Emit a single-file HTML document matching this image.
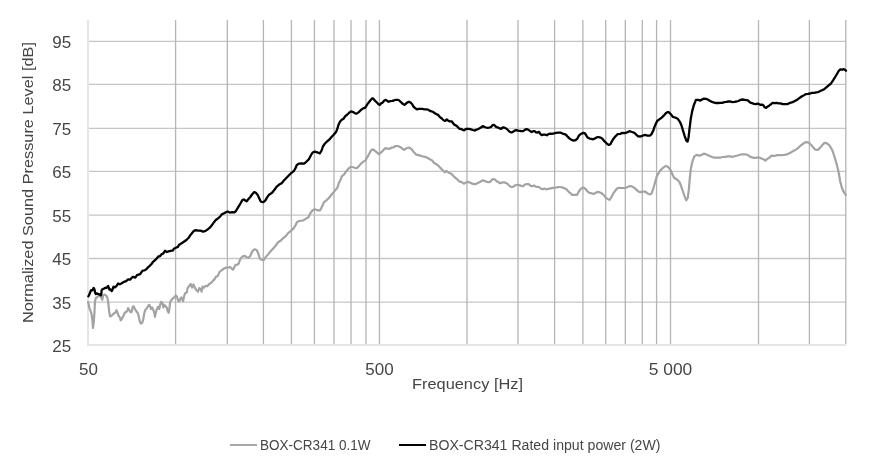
<!DOCTYPE html>
<html><head><meta charset="utf-8">
<style>
html,body{margin:0;padding:0;background:#fff;}
body{width:886px;height:467px;overflow:hidden;}
svg{display:block;will-change:transform;font-family:"Liberation Sans",sans-serif;}
</style></head>
<body>
<svg width="886" height="467" viewBox="0 0 886 467">
<rect width="886" height="467" fill="#fff"/>
<g stroke="#c6c6c6" stroke-width="1.3">
<line x1="89" y1="41.3" x2="846" y2="41.3"/><line x1="89" y1="84.4" x2="846" y2="84.4"/><line x1="89" y1="128.4" x2="846" y2="128.4"/><line x1="89" y1="171.4" x2="846" y2="171.4"/><line x1="89" y1="215.2" x2="846" y2="215.2"/><line x1="89" y1="258.5" x2="846" y2="258.5"/><line x1="89" y1="302.1" x2="846" y2="302.1"/>
</g>
<g stroke="#b6b6b6" stroke-width="1.33">
<line x1="175.6" y1="20" x2="175.6" y2="344"/><line x1="227.35" y1="20" x2="227.35" y2="344"/><line x1="263.4" y1="20" x2="263.4" y2="344"/><line x1="291.4" y1="20" x2="291.4" y2="344"/><line x1="314.45" y1="20" x2="314.45" y2="344"/><line x1="334.0" y1="20" x2="334.0" y2="344"/><line x1="351.0" y1="20" x2="351.0" y2="344"/><line x1="366.0" y1="20" x2="366.0" y2="344"/><line x1="379.45" y1="20" x2="379.45" y2="344"/><line x1="467.0" y1="20" x2="467.0" y2="344"/><line x1="518.0" y1="20" x2="518.0" y2="344"/><line x1="554.6" y1="20" x2="554.6" y2="344"/><line x1="582.9" y1="20" x2="582.9" y2="344"/><line x1="605.7" y1="20" x2="605.7" y2="344"/><line x1="625.3" y1="20" x2="625.3" y2="344"/><line x1="642.3" y1="20" x2="642.3" y2="344"/><line x1="656.6" y1="20" x2="656.6" y2="344"/><line x1="670.5" y1="20" x2="670.5" y2="344"/><line x1="758.5" y1="20" x2="758.5" y2="344"/><line x1="809.4" y1="20" x2="809.4" y2="344"/><line x1="845.8" y1="20" x2="845.8" y2="344"/>
</g>
<g fill="#e6e6e6" shape-rendering="crispEdges">
<rect x="87" y="20" width="2" height="326"/>
<rect x="87" y="344" width="759" height="2"/>
</g>
<path d="M88.1,301.8 L88.8,305.0 L89.4,308.3 L90.7,311.3 L91.6,314.3 L92.4,320.3 L93.0,328.0 L93.7,322.8 L94.4,313.4 L95.0,301.4 L95.9,298.0 L97.1,297.1 L98.9,295.9 L100.1,295.4 L101.4,298.0 L102.3,299.7 L103.1,295.4 L104.4,294.6 L106.1,295.4 L107.4,297.6 L108.3,303.1 L109.1,310.9 L110.0,316.4 L111.3,316.0 L112.6,314.7 L113.9,313.4 L115.1,313.0 L116.5,310.2 L117.5,312.7 L118.6,315.8 L120.0,317.6 L120.7,320.4 L121.8,319.0 L123.2,316.2 L124.6,313.0 L126.0,312.0 L127.1,311.3 L128.1,308.1 L129.2,309.8 L130.6,312.3 L131.7,312.0 L132.7,306.7 L133.8,306.3 L134.8,308.8 L136.3,311.3 L137.7,313.0 L138.7,316.2 L139.8,321.5 L140.9,323.6 L142.3,322.6 L143.3,319.0 L144.4,312.7 L145.4,309.8 L146.9,308.4 L147.9,306.3 L149.0,304.9 L149.5,304.9 L151.0,309.0 L152.1,307.5 L153.3,309.8 L154.4,313.5 L154.9,316.9 L155.5,314.3 L156.6,309.8 L158.1,306.8 L159.3,309.0 L160.0,305.3 L161.1,301.9 L162.3,302.6 L163.4,307.5 L164.1,304.9 L165.3,305.6 L166.8,307.9 L167.9,311.3 L168.6,312.8 L169.4,309.0 L170.1,302.3 L171.3,300.0 L172.8,298.5 L174.3,297.4 L175.8,295.5 L176.9,296.6 L178.0,300.0 L179.1,301.5 L180.3,298.9 L181.4,297.4 L182.5,300.0 L183.1,301.1 L184.0,297.1 L184.9,293.5 L186.7,292.6 L187.6,288.1 L189.0,286.3 L190.8,284.0 L192.1,287.6 L193.5,284.5 L194.8,287.6 L196.2,289.9 L198.0,291.7 L199.3,288.1 L200.7,289.4 L201.6,291.7 L202.5,286.7 L203.8,287.6 L205.6,285.8 L207.4,286.3 L209.2,284.0 L211.0,283.1 L212.8,280.9 L214.6,279.1 L216.0,276.8 L217.8,275.9 L219.6,271.9 L222.0,270.0 L224.2,268.4 L226.4,267.6 L228.2,267.5 L230.0,267.1 L231.5,268.2 L232.9,269.7 L234.0,267.9 L235.5,264.9 L237.3,264.6 L238.8,263.5 L239.8,260.2 L241.3,257.7 L243.1,256.2 L244.9,255.8 L246.8,257.3 L248.6,257.7 L250.4,255.8 L251.5,252.9 L253.0,250.4 L254.8,249.3 L256.6,250.0 L258.1,252.9 L259.2,256.6 L260.2,259.1 L261.6,259.7 L263.7,260.2 L265.7,257.1 L268.3,254.1 L270.8,251.0 L273.4,248.4 L276.0,245.3 L278.0,242.2 L280.6,240.7 L283.2,238.1 L285.7,236.1 L288.3,233.0 L290.9,230.9 L293.5,228.4 L295.5,225.3 L297.1,222.1 L299.8,220.8 L303.0,220.5 L305.7,218.9 L308.4,217.3 L310.5,213.0 L312.7,210.3 L314.8,209.3 L317.5,210.3 L320.2,210.3 L322.3,206.0 L323.9,202.3 L326.6,200.2 L329.3,197.5 L331.9,194.3 L334.6,191.1 L337.3,187.8 L338.9,183.0 L341.0,178.7 L341.7,176.4 L343.9,174.7 L346.0,171.7 L348.1,169.1 L350.3,167.0 L352.4,167.0 L354.6,167.8 L356.7,168.3 L358.9,166.1 L361.0,163.6 L363.1,161.9 L365.3,160.6 L367.0,157.6 L369.1,154.1 L370.8,150.7 L372.6,149.3 L374.3,150.3 L376.8,152.4 L379.0,154.1 L381.1,152.4 L383.3,150.3 L385.4,148.1 L387.6,148.6 L389.3,149.0 L391.4,147.7 L393.6,147.3 L395.7,146.0 L397.8,146.0 L400.0,146.9 L402.3,148.5 L404.3,149.8 L406.7,148.2 L409.1,147.5 L411.5,149.2 L413.9,152.3 L416.3,154.6 L419.2,155.4 L422.1,156.2 L425.0,156.9 L427.4,157.8 L429.8,159.3 L432.2,160.4 L434.1,163.1 L436.5,164.3 L438.5,165.8 L440.4,167.9 L442.8,170.3 L444.7,172.3 L446.6,171.0 L448.6,172.8 L451.0,173.5 L453.4,176.1 L455.8,178.1 L457.4,179.5 L459.0,181.4 L461.1,181.9 L462.8,182.9 L464.1,183.7 L465.8,182.6 L467.5,181.9 L469.2,182.2 L470.9,183.0 L472.9,183.9 L475.0,184.2 L476.7,183.6 L478.7,182.6 L480.7,181.5 L482.4,180.3 L484.4,180.9 L486.1,181.5 L488.2,182.2 L490.2,181.9 L491.9,179.8 L493.6,179.0 L495.3,179.8 L496.6,181.2 L498.7,182.2 L500.3,183.2 L502.0,182.6 L503.7,182.2 L505.8,182.9 L507.5,183.9 L509.1,185.5 L510.8,186.8 L512.9,187.0 L514.6,185.6 L515.7,185.2 L517.7,184.7 L519.8,185.4 L521.4,185.9 L523.1,186.2 L524.8,184.5 L526.9,184.1 L528.9,184.2 L530.6,185.9 L532.3,186.1 L534.0,185.5 L535.7,186.6 L537.7,186.8 L539.4,187.2 L541.1,188.8 L542.8,189.3 L544.5,188.6 L546.5,189.5 L548.5,188.8 L550.6,188.4 L552.6,187.9 L554.6,187.7 L556.7,187.4 L558.7,187.0 L560.7,187.0 L562.7,187.6 L564.8,188.6 L566.8,189.6 L568.5,191.6 L570.2,193.0 L572.2,194.9 L574.7,194.9 L577.1,194.8 L578.8,191.5 L580.8,188.8 L583.2,187.5 L585.2,188.5 L587.2,191.2 L589.3,192.8 L591.3,193.2 L593.3,193.9 L595.4,193.0 L597.4,191.9 L599.4,192.2 L601.5,193.2 L603.5,194.9 L605.5,197.3 L607.5,199.0 L609.6,199.8 L611.3,197.3 L613.0,193.9 L615.0,191.2 L617.0,188.5 L619.1,187.8 L621.4,188.0 L623.5,188.0 L625.5,187.8 L627.5,187.1 L629.5,186.3 L630.5,185.9 L632.1,186.6 L634.3,187.8 L636.4,189.6 L638.6,191.7 L640.7,192.1 L642.8,191.7 L645.0,191.5 L647.1,193.0 L648.8,194.1 L650.6,194.3 L651.8,193.0 L653.1,189.1 L654.4,184.8 L655.7,180.1 L657.0,175.8 L658.3,173.7 L660.0,170.7 L662.1,168.6 L664.3,166.9 L666.0,165.8 L667.7,166.9 L668.3,167.1 L670.6,170.2 L672.4,174.3 L674.1,177.7 L677.0,179.5 L679.3,181.8 L681.0,185.8 L682.8,191.0 L684.5,196.2 L686.2,200.3 L687.7,198.0 L688.9,189.3 L689.7,178.9 L690.9,168.5 L692.4,161.6 L694.3,156.4 L696.6,154.9 L699.5,155.8 L702.4,154.4 L704.0,153.6 L706.0,154.2 L708.1,155.2 L710.1,156.2 L712.1,157.0 L714.2,157.6 L716.2,157.7 L718.2,157.7 L720.2,157.7 L722.3,157.0 L724.3,156.9 L726.3,156.6 L728.4,156.4 L730.4,156.4 L732.4,156.9 L734.5,156.2 L736.5,155.7 L738.5,155.2 L740.6,154.5 L742.6,154.3 L744.6,154.3 L746.7,154.5 L748.3,155.4 L750.0,156.6 L752.1,157.4 L754.1,157.9 L756.1,157.9 L758.2,157.2 L760.2,157.9 L762.2,158.8 L763.7,159.4 L765.4,160.7 L767.1,159.0 L769.1,157.9 L771.5,155.6 L773.5,155.9 L775.5,155.6 L777.6,155.2 L779.6,155.2 L781.6,155.2 L783.7,155.0 L785.7,154.6 L787.7,154.1 L789.8,152.9 L791.8,151.9 L793.8,150.7 L795.9,149.6 L797.9,148.2 L799.9,146.2 L802.0,144.6 L804.0,143.1 L806.0,142.1 L808.0,142.4 L809.7,143.5 L811.4,145.2 L813.1,147.2 L814.8,149.2 L816.5,149.9 L818.2,149.6 L819.9,147.9 L822.0,145.5 L824.0,143.2 L826.2,142.8 L829.2,145.2 L832.2,150.0 L834.5,156.7 L836.7,164.2 L838.7,172.5 L840.2,181.5 L842.0,188.2 L844.2,192.7 L845.7,195.0" fill="none" stroke="#a3a3a3" stroke-width="2.2" stroke-linejoin="round" stroke-linecap="round"/>
<path d="M88.3,296.3 L89.0,295.3 L89.6,293.7 L90.3,292.0 L90.9,290.3 L91.6,290.1 L92.4,290.3 L93.1,289.0 L93.7,287.9 L94.4,289.2 L94.8,291.1 L95.2,292.9 L95.9,294.1 L96.7,293.3 L97.6,293.7 L98.4,294.1 L99.3,294.6 L100.1,294.4 L101.0,295.4 L101.4,293.3 L101.6,290.3 L102.3,289.4 L103.1,289.0 L104.0,288.6 L104.9,288.1 L105.7,287.7 L106.6,287.9 L107.4,286.9 L108.1,286.0 L108.7,287.7 L109.4,289.6 L110.0,289.2 L110.9,289.9 L111.7,291.1 L112.4,289.9 L113.0,287.7 L113.6,286.6 L114.5,287.3 L115.0,287.3 L116.6,285.9 L118.2,283.5 L119.8,284.3 L120.9,283.7 L122.5,282.7 L124.6,281.6 L126.2,281.1 L127.9,279.5 L130.0,279.7 L131.6,277.9 L133.2,276.8 L135.3,277.6 L137.0,275.2 L138.6,274.6 L140.2,274.1 L141.8,271.7 L142.8,270.6 L144.5,270.4 L146.6,269.0 L148.2,267.1 L149.8,265.8 L151.5,264.0 L153.0,261.9 L154.8,260.4 L156.6,258.6 L158.4,256.5 L159.9,256.2 L161.4,254.4 L163.2,253.5 L165.0,250.8 L166.8,252.0 L168.6,251.4 L170.7,250.8 L172.8,250.5 L174.0,248.7 L175.8,247.8 L177.9,246.9 L179.1,244.8 L180.6,243.9 L182.4,242.7 L184.2,241.5 L185.0,241.0 L187.1,239.3 L188.9,237.5 L190.1,235.4 L191.9,233.3 L193.6,231.1 L195.7,230.1 L197.8,230.7 L200.4,230.7 L203.0,231.6 L205.6,230.9 L207.7,229.4 L209.8,227.7 L211.6,225.6 L213.7,222.6 L215.8,220.0 L218.0,218.3 L220.1,216.6 L221.8,214.4 L224.1,213.3 L225.9,212.2 L227.7,211.5 L229.8,212.6 L232.2,212.2 L234.4,212.4 L236.1,210.8 L237.5,208.3 L239.0,205.8 L240.7,203.0 L242.5,199.8 L243.9,199.5 L245.3,200.5 L246.7,201.3 L248.5,199.1 L250.3,197.0 L252.0,194.5 L254.2,192.1 L255.9,192.8 L257.7,194.9 L259.1,198.1 L260.5,200.9 L261.4,201.9 L263.4,202.2 L265.4,200.4 L267.4,196.9 L269.3,194.5 L271.8,193.0 L274.3,190.0 L276.7,186.6 L279.2,184.6 L281.6,183.2 L284.1,180.2 L286.6,177.7 L289.0,175.3 L291.5,172.8 L294.0,170.8 L295.9,167.4 L296.8,164.9 L299.1,163.6 L301.3,163.4 L304.0,163.6 L306.3,161.8 L309.0,159.1 L310.8,155.5 L312.6,152.5 L314.8,151.6 L317.1,152.3 L319.8,153.4 L321.6,150.5 L322.9,146.5 L324.7,143.8 L327.0,141.5 L329.2,139.7 L331.5,137.0 L333.7,134.8 L336.0,132.1 L337.2,129.2 L338.4,125.1 L340.1,121.5 L341.7,119.8 L343.3,119.0 L345.3,116.2 L347.4,114.5 L349.4,112.5 L351.0,111.3 L353.1,112.1 L355.1,113.3 L356.7,113.7 L358.8,112.1 L361.2,109.7 L363.2,108.4 L365.3,107.6 L366.5,105.6 L368.1,103.2 L370.1,100.7 L372.2,98.3 L373.4,98.7 L375.0,100.7 L377.1,102.8 L378.7,104.4 L380.0,104.8 L381.0,103.5 L382.7,102.5 L384.1,100.8 L385.8,99.8 L387.1,100.8 L388.5,101.8 L390.2,101.1 L392.2,100.8 L393.9,100.5 L395.6,99.8 L397.6,99.8 L399.3,100.5 L401.0,102.2 L402.7,103.8 L404.4,104.9 L406.1,103.5 L407.8,102.2 L409.1,101.8 L410.8,102.8 L412.2,104.2 L413.5,106.6 L415.2,108.2 L416.9,109.3 L418.6,108.9 L420.3,108.9 L422.3,108.8 L424.4,109.3 L426.4,109.3 L428.1,109.6 L429.8,110.8 L431.5,111.3 L433.2,112.0 L434.9,113.3 L436.6,114.3 L438.0,114.7 L439.7,116.8 L441.8,118.5 L443.8,120.5 L445.1,120.8 L446.8,119.5 L448.5,120.8 L450.2,121.4 L451.9,121.5 L453.3,123.5 L454.6,124.9 L456.3,125.6 L457.7,126.9 L459.4,128.8 L461.1,129.0 L462.7,129.8 L464.1,130.3 L465.8,129.0 L467.5,128.8 L469.2,128.8 L470.9,129.3 L472.9,130.0 L474.9,130.6 L476.6,129.6 L478.3,129.0 L480.0,128.1 L481.4,127.3 L482.7,126.1 L484.4,126.9 L486.1,127.5 L487.8,127.9 L489.5,127.5 L491.2,126.9 L492.5,125.2 L493.9,124.8 L495.2,125.9 L496.4,127.2 L498.1,127.5 L499.8,128.4 L501.1,128.9 L502.8,127.3 L504.5,127.7 L506.2,128.5 L507.9,130.0 L509.6,131.8 L511.3,132.5 L513.0,131.9 L514.6,130.7 L516.3,130.2 L518.0,130.6 L519.7,130.9 L521.4,131.2 L523.1,131.1 L524.8,129.9 L526.5,129.1 L528.2,129.6 L529.9,130.9 L531.6,132.1 L533.3,131.2 L534.6,131.1 L536.0,132.3 L537.7,132.5 L539.0,131.9 L540.4,134.0 L541.7,135.2 L543.4,134.6 L545.1,134.6 L546.8,135.3 L548.5,134.1 L550.2,133.6 L551.9,133.8 L554.0,133.4 L556.1,132.8 L558.4,132.7 L560.8,132.7 L562.5,133.6 L564.5,134.1 L566.2,134.9 L567.9,136.9 L569.6,138.6 L571.6,139.9 L573.7,140.6 L575.7,140.1 L577.4,138.6 L578.7,135.9 L580.4,134.2 L582.1,133.4 L583.5,132.8 L585.2,133.6 L586.5,135.9 L587.9,137.7 L589.6,138.6 L591.3,138.9 L593.0,139.3 L594.7,138.6 L596.7,137.4 L598.4,137.0 L600.4,137.6 L602.1,138.6 L603.8,140.6 L605.5,142.3 L607.2,144.0 L608.9,144.9 L610.6,144.0 L611.6,141.8 L613.3,138.9 L615.3,136.5 L617.7,134.1 L620.2,133.9 L622.2,132.8 L624.7,133.1 L627.1,132.4 L629.5,131.2 L632.0,132.0 L634.4,132.8 L636.5,134.9 L638.1,136.3 L640.5,136.5 L642.6,135.7 L645.0,134.9 L647.5,135.7 L649.9,135.7 L651.5,134.1 L653.2,130.8 L654.4,127.1 L655.6,124.3 L657.2,121.0 L659.3,119.4 L661.7,117.6 L663.7,115.7 L665.8,113.3 L667.8,112.1 L668.7,112.1 L670.8,114.3 L673.0,117.0 L675.6,117.7 L677.8,118.8 L679.9,121.8 L681.5,125.5 L683.1,130.9 L684.7,136.2 L686.3,140.5 L687.6,141.6 L688.5,137.8 L689.6,128.2 L690.8,118.6 L692.2,111.1 L693.8,105.2 L696.0,99.8 L698.1,99.8 L700.3,100.6 L702.4,99.3 L704.0,98.7 L706.0,98.8 L708.1,99.8 L710.1,101.0 L712.1,101.9 L714.2,102.6 L716.2,103.0 L718.2,103.0 L720.2,102.9 L722.3,102.8 L724.3,102.2 L726.3,101.9 L728.4,101.5 L730.4,101.5 L732.4,102.1 L734.5,101.9 L736.5,101.5 L738.5,101.0 L740.6,99.8 L742.6,99.5 L744.6,99.8 L746.7,100.1 L748.3,100.7 L750.0,102.4 L752.1,103.2 L754.1,103.9 L755.8,104.2 L757.5,103.7 L758.8,103.9 L760.2,104.8 L762.0,104.6 L763.4,105.3 L764.7,107.3 L766.1,107.9 L767.4,106.7 L769.1,105.7 L770.8,104.3 L772.5,102.9 L774.5,103.1 L776.6,102.9 L778.6,103.3 L780.6,103.4 L782.6,104.1 L785.0,104.1 L787.7,104.1 L789.8,102.9 L791.8,102.3 L793.8,101.6 L795.9,100.4 L797.9,99.2 L799.9,97.7 L802.0,96.2 L804.0,95.2 L806.0,94.1 L808.0,93.9 L810.1,93.5 L812.1,92.8 L814.1,92.8 L816.2,92.3 L818.2,92.1 L819.9,91.2 L822.0,90.3 L824.6,88.9 L827.8,86.2 L831.0,83.5 L833.7,79.3 L836.4,75.0 L838.5,71.2 L840.1,69.4 L842.3,69.6 L843.9,69.1 L845.5,70.2 L846.0,70.7" fill="none" stroke="#000" stroke-width="2.3" stroke-linejoin="round" stroke-linecap="round"/>
<g fill="#464646" font-size="16" text-anchor="end"><text x="71.1" y="47.8" textLength="18.9" lengthAdjust="spacingAndGlyphs">95</text><text x="71.1" y="90.8" textLength="18.9" lengthAdjust="spacingAndGlyphs">85</text><text x="71.1" y="134.8" textLength="18.9" lengthAdjust="spacingAndGlyphs">75</text><text x="71.1" y="177.8" textLength="18.9" lengthAdjust="spacingAndGlyphs">65</text><text x="71.1" y="221.8" textLength="18.9" lengthAdjust="spacingAndGlyphs">55</text><text x="71.1" y="264.8" textLength="18.9" lengthAdjust="spacingAndGlyphs">45</text><text x="71.1" y="308.8" textLength="18.9" lengthAdjust="spacingAndGlyphs">35</text><text x="71.1" y="351.8" textLength="18.9" lengthAdjust="spacingAndGlyphs">25</text></g>
<g fill="#464646" font-size="16" text-anchor="middle"><text x="88.5" y="375.4" textLength="18.9" lengthAdjust="spacingAndGlyphs">50</text><text x="379.5" y="375.4" textLength="28.349999999999998" lengthAdjust="spacingAndGlyphs">500</text><text x="670.5" y="375.4" textLength="43.46999999999999" lengthAdjust="spacingAndGlyphs">5 000</text></g>
<text x="467.5" y="389" fill="#464646" font-size="15.5" text-anchor="middle" textLength="111" lengthAdjust="spacingAndGlyphs">Frequency [Hz]</text>
<text transform="translate(33.3,182.5) rotate(-90)" fill="#464646" font-size="14.5" text-anchor="middle" textLength="281" lengthAdjust="spacingAndGlyphs">Normalized Sound Pressure Level [dB]</text>
<g shape-rendering="crispEdges">
<rect x="230" y="444.2" width="27" height="1.9" fill="#a8a8a8"/>
<rect x="399" y="444.1" width="27" height="2.1" fill="#000"/>
</g>
<g fill="#464646" font-size="14">
<text x="260" y="450" textLength="110.5" lengthAdjust="spacingAndGlyphs">BOX-CR341 0.1W</text>
<text x="429" y="450" textLength="231.5" lengthAdjust="spacingAndGlyphs">BOX-CR341 Rated input power (2W)</text>
</g>
</svg>
</body></html>
